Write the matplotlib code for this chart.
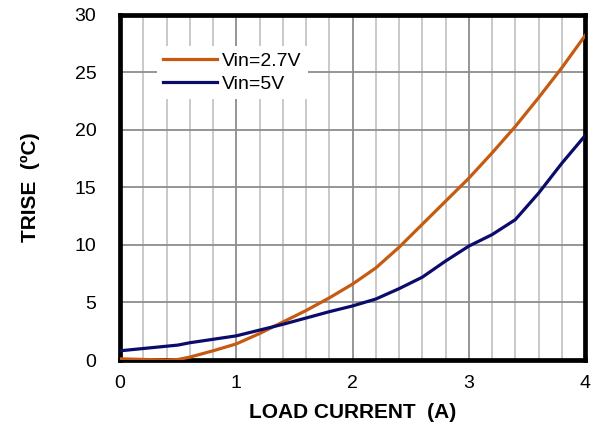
import matplotlib
matplotlib.use('Agg')
import matplotlib.pyplot as plt
from matplotlib.ticker import MultipleLocator

plt.rcParams['font.family'] = ['Liberation Sans', 'DejaVu Sans']

# temperature rise vs load current
load_current = [0.0, 0.2, 0.4, 0.5, 0.6, 0.8, 1.0, 1.2, 1.4, 1.6, 1.8, 2.0,
                2.2, 2.4, 2.6, 2.8, 3.0, 3.2, 3.4, 3.6, 3.8, 4.0]
trise_2v7 = [0.1, 0.05, 0.0, 0.05, 0.25, 0.8, 1.4, 2.3, 3.3, 4.3, 5.4, 6.6,
             8.0, 9.8, 11.8, 13.8, 15.8, 18.0, 20.3, 22.8, 25.4, 28.2]
trise_5v = [0.8, 1.0, 1.2, 1.3, 1.5, 1.8, 2.1, 2.6, 3.1, 3.65, 4.2, 4.7,
            5.3, 6.2, 7.2, 8.6, 9.9, 10.9, 12.2, 14.5, 17.1, 19.5]
labels = ['Vin=2.7V', 'Vin=5V']
colors = ['#C65A11', '#0B0B6B']

fig = plt.figure(figsize=(5.98, 4.34), dpi=100)
ax = fig.add_axes([0.2007, 0.1705, 0.7776, 0.795])

ax.plot(load_current, trise_2v7, color=colors[0], lw=2.3, label=labels[0], zorder=3)
ax.plot(load_current, trise_5v, color=colors[1], lw=2.3, label=labels[1], zorder=3)

ax.set_xlim(0, 4)
ax.set_ylim(0, 30)
ax.xaxis.set_major_locator(MultipleLocator(1))
ax.xaxis.set_minor_locator(MultipleLocator(0.2))
ax.yaxis.set_major_locator(MultipleLocator(5))
ax.grid(which='minor', axis='x', color='#C0C0C0', lw=1.2)
ax.grid(which='major', axis='both', color='#8C8C8C', lw=1.3)
ax.set_axisbelow(True)

ax.tick_params(which='both', length=0, labelsize=14)
ax.tick_params(axis='y', pad=17)
ax.tick_params(axis='x', pad=11)
for s in ax.spines.values():
    s.set_linewidth(3.4)
    s.set_color('black')

ax.set_xlabel('LOAD CURRENT  (A)', fontsize=15, fontweight='bold', labelpad=8)
ax.set_ylabel('TRISE  (ºC)', fontsize=15, fontweight='bold', labelpad=25)

leg = ax.legend(loc='upper left', bbox_to_anchor=(0.08, 0.909), fontsize=14,
                frameon=True, fancybox=False, framealpha=1, edgecolor='none',
                handlelength=2.8, handletextpad=0.25, borderpad=0.3,
                labelspacing=0.29, borderaxespad=0)
leg.get_frame().set_linewidth(0)

fig.savefig('out.png', dpi=100)
